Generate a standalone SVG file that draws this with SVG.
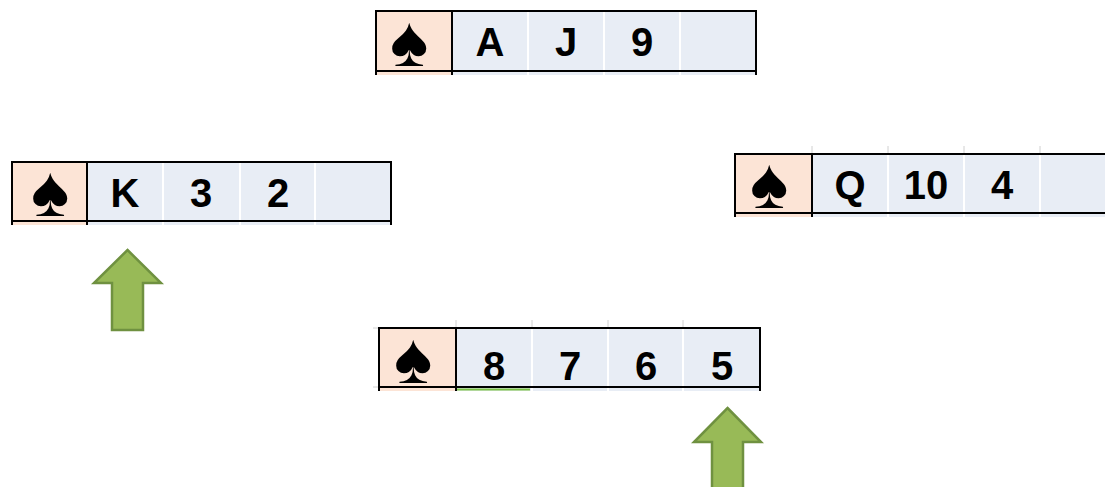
<svg xmlns="http://www.w3.org/2000/svg" width="1105" height="487" viewBox="0 0 1105 487">
<defs>
<style>
.suit{fill:#FCE4D6}
.cells{fill:#E8EDF5}
.blk{stroke:#000;stroke-width:2;fill:none}
.wht{stroke:#fff;stroke-width:2}
.tick{stroke:#D0D0D0;stroke-width:1}
.rank{font-family:"Liberation Sans",Arial,sans-serif;font-weight:bold;font-size:40px;fill:#000;text-anchor:middle}
.sp{font-family:"Liberation Sans",Arial,sans-serif;font-size:72px;fill:#000;text-anchor:middle}
.arrow{fill:#98BA57;stroke:#6F9140;stroke-width:2.5;stroke-linejoin:miter}
</style>
</defs>
<rect width="1105" height="487" fill="#fff"/>

<g id="north">
<rect class="suit" x="376" y="11" width="76" height="64"/>
<rect class="cells" x="452" y="11" width="304" height="64"/>
<line class="wht" x1="528" y1="12" x2="528" y2="75"/>
<line class="wht" x1="604" y1="12" x2="604" y2="75"/>
<line class="wht" x1="680" y1="12" x2="680" y2="75"/>
<line class="blk" x1="376" y1="11" x2="756" y2="11"/>
<line class="blk" x1="376" y1="71" x2="756" y2="71"/>
<line class="blk" x1="376" y1="10" x2="376" y2="75"/>
<line class="blk" x1="452" y1="10" x2="452" y2="75"/>
<line class="blk" x1="756" y1="10" x2="756" y2="75"/>
<text class="sp" x="409" y="65.5">♠</text>
<text class="rank" x="490" y="56">A</text>
<text class="rank" x="566" y="56">J</text>
<text class="rank" x="642" y="56">9</text>
</g>

<g id="west">
<rect class="suit" x="12" y="162" width="75" height="63"/>
<rect class="cells" x="87" y="162" width="304" height="63"/>
<line class="wht" x1="163" y1="163" x2="163" y2="225"/>
<line class="wht" x1="240" y1="163" x2="240" y2="225"/>
<line class="wht" x1="315" y1="163" x2="315" y2="225"/>
<line class="blk" x1="12" y1="162" x2="391" y2="162"/>
<line class="blk" x1="12" y1="221" x2="391" y2="221"/>
<line class="blk" x1="12" y1="161" x2="12" y2="225"/>
<line class="blk" x1="87" y1="161" x2="87" y2="225"/>
<line class="blk" x1="391" y1="161" x2="391" y2="225"/>
<text class="sp" x="50" y="216">♠</text>
<text class="rank" x="125" y="207">K</text>
<text class="rank" x="201" y="207">3</text>
<text class="rank" x="278" y="207">2</text>
</g>

<g id="east">
<line class="tick" x1="812" y1="146" x2="812" y2="154"/>
<line class="tick" x1="888" y1="146" x2="888" y2="154"/>
<line class="tick" x1="964" y1="146" x2="964" y2="154"/>
<line class="tick" x1="1040" y1="146" x2="1040" y2="154"/>
<rect class="suit" x="735" y="154" width="77" height="63"/>
<rect class="cells" x="812" y="154" width="293" height="63"/>
<line class="wht" x1="888" y1="155" x2="888" y2="217"/>
<line class="wht" x1="964" y1="155" x2="964" y2="217"/>
<line class="wht" x1="1040" y1="155" x2="1040" y2="217"/>
<line class="blk" x1="735" y1="154" x2="1105" y2="154"/>
<line class="blk" x1="735" y1="213" x2="1105" y2="213"/>
<line class="blk" x1="735" y1="153" x2="735" y2="217"/>
<line class="blk" x1="812" y1="153" x2="812" y2="217"/>
<text class="sp" x="769" y="208">♠</text>
<text class="rank" x="850" y="199">Q</text>
<text class="rank" x="926" y="199">10</text>
<text class="rank" x="1002" y="199">4</text>
</g>

<g id="south">
<line class="tick" x1="456" y1="320" x2="456" y2="328"/>
<line class="tick" x1="532" y1="320" x2="532" y2="328"/>
<line class="tick" x1="608" y1="320" x2="608" y2="328"/>
<line class="tick" x1="683" y1="320" x2="683" y2="328"/>
<line class="tick" x1="373" y1="328" x2="379" y2="328"/>
<line class="tick" x1="373" y1="387" x2="379" y2="387"/>
<rect class="suit" x="379" y="328" width="77" height="63"/>
<rect class="cells" x="456" y="328" width="304" height="63"/>
<line class="wht" x1="532" y1="329" x2="532" y2="391"/>
<line class="wht" x1="608" y1="329" x2="608" y2="391"/>
<line class="wht" x1="683" y1="329" x2="683" y2="391"/>
<line class="blk" x1="379" y1="328" x2="760" y2="328"/>
<line class="blk" x1="379" y1="387" x2="760" y2="387"/>
<line class="blk" x1="379" y1="327" x2="379" y2="391"/>
<line class="blk" x1="456" y1="327" x2="456" y2="391"/>
<line class="blk" x1="760" y1="327" x2="760" y2="391"/>
<line x1="457" y1="389.5" x2="530" y2="389.5" stroke="#7AC143" stroke-width="2"/>
<text class="sp" x="413" y="383">♠</text>
<text class="rank" x="494" y="380">8</text>
<text class="rank" x="570" y="380">7</text>
<text class="rank" x="646" y="380">6</text>
<text class="rank" x="722" y="380">5</text>
</g>

<g id="arrow-west">
<polygon class="arrow" points="127.5,250 161,283 143,283 143,330 112,330 112,283 94,283"/>
</g>
<g id="arrow-south">
<polygon class="arrow" points="727.5,408 761,442 743,442 743,490 712,490 712,442 694,442"/>
</g>
</svg>
